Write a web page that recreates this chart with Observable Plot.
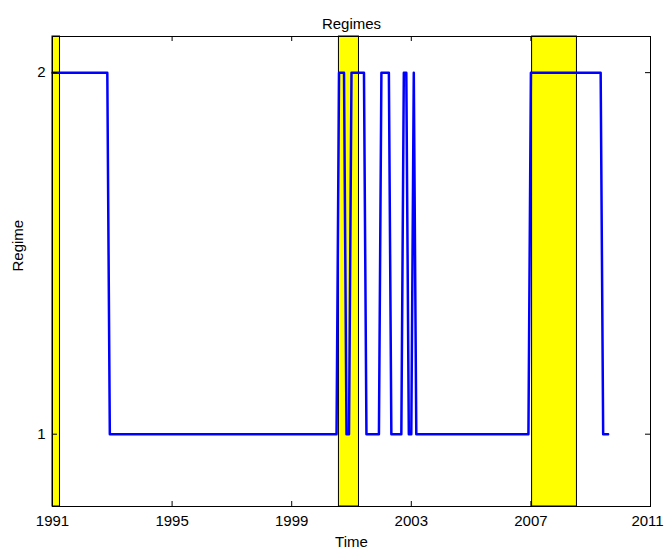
<!DOCTYPE html>
<html>
<head>
<meta charset="utf-8">
<script src="https://cdn.jsdelivr.net/npm/d3@7"></script>
<script src="https://cdn.jsdelivr.net/npm/@observablehq/plot@0.6"></script>
<style>
  html, body { margin: 0; padding: 0; background: #fff; }
  #chart svg { display: block; }
</style>
</head>
<body>
<div id="chart"></div>
<script>
// Regime path vertices (time in years, regime value)
const regimeTime = [
  1991.0, 1992.833, 1992.917,
  2000.5, 2000.583, 2000.75, 2000.833, 2000.917, 2001.0,
  2001.417, 2001.5, 2001.917, 2002.0, 2002.25, 2002.333,
  2002.667, 2002.75, 2002.833, 2002.917, 2003.0, 2003.083, 2003.167,
  2006.917, 2007.0, 2009.333, 2009.417, 2009.583
];
const regimeValue = [
  2, 2, 1,
  1, 2, 2, 1, 1, 2,
  2, 1, 1, 2, 2, 1,
  1, 2, 2, 1, 1, 2, 1,
  1, 2, 2, 1, 1
];
// Shaded (recession) periods
const shadeStart = [1991.0, 2000.58, 2007.04];
const shadeEnd   = [1991.25, 2001.25, 2008.54];
// Ticks
const xTicks = [1991, 1995, 1999, 2003, 2007, 2011];
const yTicks = [1, 2];

const series = regimeTime.map((t, i) => ({t, v: regimeValue[i]}));
const shades = shadeStart.map((s, i) => ({s, e: shadeEnd[i]}));

const W = 665, H = 552;
const mL = 52, mR = 15, mT = 36, mB = 46;
const innerH = H - mT - mB;
const tl = 5;
const font = "Liberation Sans, Arial, sans-serif";
const lastTick = xTicks[xTicks.length - 1];

const chart = Plot.plot({
  width: W,
  height: H,
  marginLeft: mL,
  marginRight: mR,
  marginTop: mT,
  marginBottom: mB,
  style: {fontFamily: font, fontSize: "14px", color: "#000", background: "#fff"},
  x: {domain: [1991, 2011]},
  y: {domain: [0.8, 2.1]},
  marks: [
    Plot.rect(shades, {x1: "s", x2: "e", fill: "#ffff00", stroke: "#000", strokeWidth: 1}),
    Plot.line(series, {x: "t", y: "v", stroke: "#0000ff", strokeWidth: 2.5, curve: "linear"}),
    Plot.frame({stroke: "#000", strokeWidth: 1}),
    // inward ticks bottom / top
    Plot.ruleX(xTicks, {x: d => d, insetTop: innerH - tl, stroke: "#000"}),
    Plot.ruleX(xTicks, {x: d => d, insetBottom: innerH - tl, stroke: "#000"}),
    Plot.ruleY(yTicks, {y: d => d, insetRight: (W - mL - mR) - tl, stroke: "#000"}),
    Plot.ruleY(yTicks, {y: d => d, insetLeft: (W - mL - mR) - tl, stroke: "#000"}),
    Plot.axisX(xTicks.filter(d => d !== lastTick), {anchor: "bottom", tickSize: 0, tickPadding: 9, tickFormat: d => String(d), fontSize: 15, label: null}),
    Plot.axisX([lastTick], {anchor: "bottom", tickSize: 0, tickPadding: 9, tickFormat: d => String(d), fontSize: 15, dx: -3, label: null}),
    Plot.axisY(yTicks, {anchor: "left", tickSize: 0, tickPadding: 7, tickFormat: d => String(d), fontSize: 15, label: null}),
    Plot.text(["Time"], {frameAnchor: "bottom", dy: 40, fontSize: 15}),
    Plot.text(["Regime"], {frameAnchor: "left", dx: -34, rotate: -90, fontSize: 15}),
    Plot.text(["Regimes"], {frameAnchor: "top", dy: -18, fontSize: 15})
  ]
});
document.getElementById("chart").appendChild(chart);
</script>
</body>
</html>
